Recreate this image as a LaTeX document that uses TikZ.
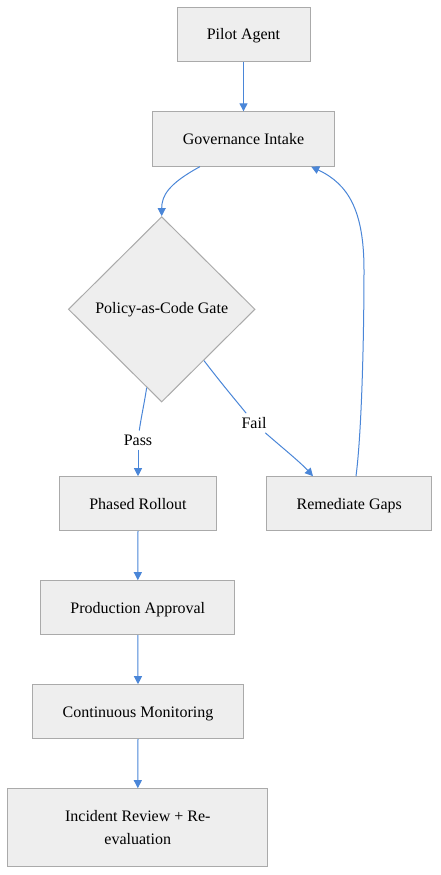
\documentclass[tikz,border=0pt]{standalone}
\usepackage{fontspec}
\setmainfont{Liberation Serif}
\usetikzlibrary{shapes.geometric,arrows.meta,calc}
\definecolor{boxfill}{HTML}{EEEEEE}
\definecolor{boxline}{HTML}{AAAAAA}
\definecolor{edgeblue}{HTML}{4A86D8}
\tikzset{
  box/.style={draw=boxline,fill=boxfill,line width=1pt,rectangle,inner sep=0pt,
    font=\fontsize{16pt}{23pt}\selectfont,align=center},
  onebox/.style={box,text height=14pt,text depth=3.4pt},
  gatebox/.style={draw=boxline,fill=boxfill,line width=1pt,diamond,inner sep=0pt,
    minimum width=186.7pt,minimum height=185.4pt,font=\fontsize{16pt}{23pt}\selectfont},
  lbl/.style={fill=white,inner sep=4pt,font=\fontsize{16pt}{19pt}\selectfont},
  edge/.style={draw=edgeblue,line width=1pt},
  arr/.style={edge,-{Triangle[length=8pt,width=8pt]}}
}
\begin{document}
\begin{tikzpicture}[x=1pt,y=-1pt]
\useasboundingbox[fill=white] (0,0) rectangle (440,875);
\node[onebox,minimum width=133pt,minimum height=54.7pt] (pilot) at (243.5,34.5) {Pilot Agent};
\node[onebox,minimum width=181.6pt,minimum height=54.3pt] (gov) at (243.5,139) {Governance Intake};
\node[gatebox] (gate) at (161.7,309.3) {Policy-as-Code Gate};
\node[onebox,minimum width=157.4pt,minimum height=54pt] (rollout) at (138,503.7) {Phased Rollout};
\node[onebox,minimum width=165.3pt,minimum height=54pt] (rem) at (349.3,503.7) {Remediate Gaps};
\node[onebox,minimum width=194.3pt,minimum height=54pt] (prod) at (137.8,607.7) {Production Approval};
\node[onebox,minimum width=211.4pt,minimum height=54pt] (mon) at (138,711.7) {Continuous Monitoring};
\node[box,minimum width=260.3pt,minimum height=78pt] (inc) at (137.8,827.7) {Incident Review + Re-\\evaluation};
\node[lbl] (passlbl) at (138,440) {Pass};
\node[lbl] (faillbl) at (254,423) {Fail};

\draw[arr] (pilot.south) -- (gov.north);
\draw[arr] ([xshift=-43.5pt]gov.south) .. controls (168,184) and (161.7,196) .. (gate.north);
\draw[edge] ($(gate.south)!0.16!(gate.west)$) .. controls (144,405) and (141,418) .. (passlbl);
\draw[arr] (passlbl.south) -- (rollout.north);
\draw[edge] ($(gate.east)!0.55!(gate.south)$) .. controls (225,388) and (238,403) .. (faillbl);
\draw[arr] (faillbl) .. controls (285,450) and (300,462) .. ([xshift=-36.3pt]rem.north);
\draw[arr] ([xshift=6.7pt]rem.north) .. controls (362,430) and (364,330) .. (364,270)
  .. controls (364,210) and (348,184) .. ([xshift=-23.6pt]gov.south east);
\draw[arr] (rollout.south) -- (prod.north);
\draw[arr] (prod.south) -- (mon.north);
\draw[arr] (mon.south) -- (inc.north);
\end{tikzpicture}
\end{document}
